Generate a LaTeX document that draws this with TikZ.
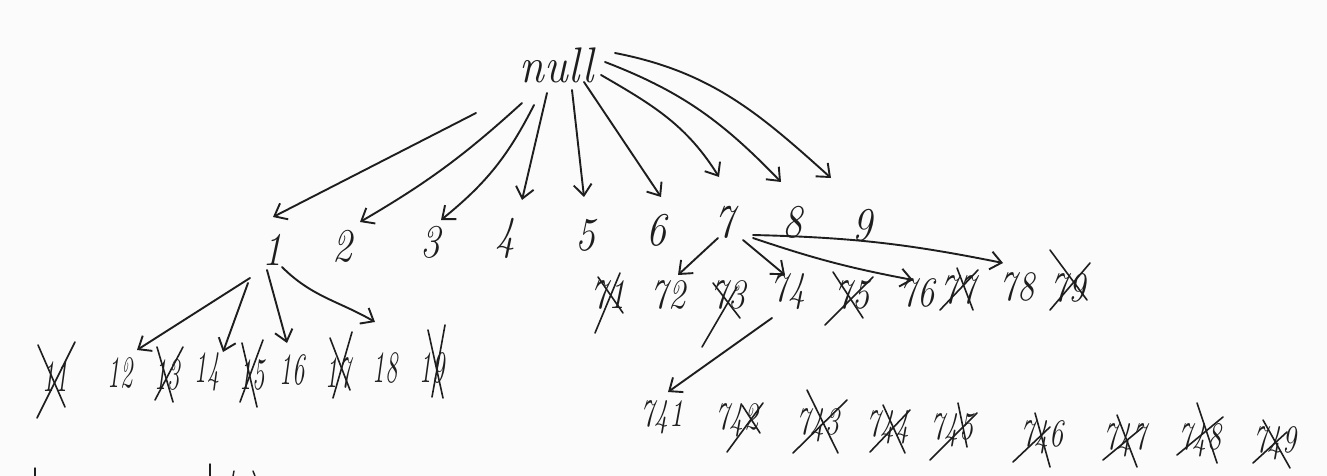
\documentclass[tikz,border=0pt]{standalone}
\usepackage{graphicx}
\usetikzlibrary{arrows.meta}
\definecolor{ink}{HTML}{1E1E1E}
\definecolor{paper}{HTML}{FBFBFB}
\newcommand\hw[2]{\scalebox{#1}[1]{#2}}
\newcommand\crossout[9]{%
  \draw[strike] ([shift={(#2,#3)}]#1.center) -- ([shift={(#4,#5)}]#1.center);
  \draw[strike] ([shift={(#6,#7)}]#1.center) -- ([shift={(#8,#9)}]#1.center);}
\begin{document}
\begin{tikzpicture}[x=1pt,y=1pt,
  pen/.style={draw=ink, line width=1.9pt, line cap=round, line join=round},
  arr/.style={pen, -{Straight Barb[length=11pt,width=18pt]}},
  strike/.style={pen, line width=1.6pt},
  lab/.style={inner sep=0pt, text=ink},
  rootlab/.style={lab, font=\fontsize{50}{50}\selectfont\itshape},
  lvlone/.style={lab, font=\fontsize{47}{47}\selectfont\itshape},
  lvltwoa/.style={lab, font=\fontsize{45}{45}\selectfont\itshape},
  lvltwob/.style={lab, font=\fontsize{42}{42}\selectfont\itshape},
  lvlthree/.style={lab, font=\fontsize{39}{39}\selectfont\itshape}]
\fill[paper] (0,0) rectangle (1327,-476);
\useasboundingbox (0,0) rectangle (1327,-476);

% root
\node[rootlab] (null) at (557,-65) {\hw{0.9}{null}};
% level 1
\node[lvlone] (n1) at (272,-250) {\hw{0.85}{1}};
\node[lvlone] (n2) at (342,-246) {\hw{0.85}{2}};
\node[lvlone] (n3) at (430,-242) {\hw{0.85}{3}};
\node[lvlone] (n4) at (505,-238) {\hw{0.85}{4}};
\node[lvlone] (n5) at (585,-235) {\hw{0.85}{5}};
\node[lvlone] (n6) at (656,-230) {\hw{0.85}{6}};
\node[lvlone] (n7) at (724,-222) {\hw{0.85}{7}};
\node[lvlone] (n8) at (792,-222) {\hw{0.85}{8}};
\node[lvlone] (n9) at (862,-225) {\hw{0.85}{9}};
% children of 1
\node[lvltwoa] (n11) at (55,-377) {\hw{0.55}{11}};
\node[lvltwoa] (n12) at (120,-373) {\hw{0.55}{12}};
\node[lvltwoa] (n13) at (167,-375) {\hw{0.55}{13}};
\node[lvltwoa] (n14) at (207,-372) {\hw{0.55}{14}};
\node[lvltwoa] (n15) at (252,-375) {\hw{0.55}{15}};
\node[lvltwoa] (n16) at (292,-370) {\hw{0.55}{16}};
\node[lvltwoa] (n17) at (338,-373) {\hw{0.55}{17}};
\node[lvltwoa] (n18) at (385,-368) {\hw{0.55}{18}};
\node[lvltwoa] (n19) at (432,-368) {\hw{0.55}{19}};
% children of 7
\node[lvltwob] (n71) at (608,-295) {\hw{0.82}{71}};
\node[lvltwob] (n72) at (668,-295) {\hw{0.82}{72}};
\node[lvltwob] (n73) at (728,-295) {\hw{0.82}{73}};
\node[lvltwob] (n74) at (788,-292) {\hw{0.82}{74}};
\node[lvltwob] (n75) at (852,-295) {\hw{0.82}{75}};
\node[lvltwob] (n76) at (917,-293) {\hw{0.82}{76}};
\node[lvltwob] (n77) at (958,-290) {\hw{0.82}{77}};
\node[lvltwob] (n78) at (1017,-287) {\hw{0.82}{78}};
\node[lvltwob] (n79) at (1068,-288) {\hw{0.82}{79}};
% children of 74
\node[lvlthree] (n741) at (662,-417) {\hw{0.72}{741}};
\node[lvlthree] (n742) at (737,-420) {\hw{0.72}{742}};
\node[lvlthree] (n743) at (818,-425) {\hw{0.72}{743}};
\node[lvlthree] (n744) at (888,-427) {\hw{0.72}{744}};
\node[lvlthree] (n745) at (952,-430) {\hw{0.72}{745}};
\node[lvlthree] (n746) at (1042,-437) {\hw{0.72}{746}};
\node[lvlthree] (n747) at (1125,-440) {\hw{0.72}{747}};
\node[lvlthree] (n748) at (1200,-440) {\hw{0.72}{748}};
\node[lvlthree] (n749) at (1275,-443) {\hw{0.72}{749}};

% arrows from null
\draw[arr] ([shift={(-81,-48)}]null.center) -- ([shift={(1,33)}]n1.center);
\draw[arr] ([shift={(-35,-38)}]null.center) to[bend left=6] ([shift={(18,24)}]n2.center);
\draw[arr] ([shift={(-23,-40)}]null.center) to[bend left=12] ([shift={(11,22)}]n3.center);
\draw[arr] ([shift={(-10,-28)}]null.center) -- ([shift={(17,38)}]n4.center);
\draw[arr] ([shift={(15,-25)}]null.center) -- ([shift={(-1,38)}]n5.center);
\draw[arr] ([shift={(27,-17)}]null.center) -- ([shift={(5,33)}]n6.center);
\draw[arr] ([shift={(44,-10)}]null.center) to[out=-30,in=122] ([shift={(-5,45)}]n7.center);
\draw[arr] ([shift={(48,3)}]null.center) to[out=-21,in=134] ([shift={(-11,40)}]n8.center);
\draw[arr] ([shift={(58,12)}]null.center) to[out=-11,in=138] ([shift={(-31,47)}]n9.center);

% arrows from 1
\draw[arr] ([shift={(-22,-28)}]n1.center) -- ([shift={(17,23)}]n12.center);
\draw[arr] ([shift={(-24,-33)}]n1.center) -- ([shift={(16,20)}]n14.center);
\draw[arr] ([shift={(-5,-20)}]n1.center) -- ([shift={(-5,27)}]n16.center);
\draw[arr] ([shift={(10,-17)}]n1.center) to[out=-45,in=150] ([shift={(-10,46)}]n18.center);

% arrows from 7
\draw[arr] ([shift={(-6,-16)}]n7.center) -- ([shift={(10,20)}]n72.center);
\draw[arr] ([shift={(19,-18)}]n7.center) -- ([shift={(-3,17)}]n74.center);
\draw[arr] ([shift={(29,-16)}]n7.center) to[bend right=4] ([shift={(-4,13)}]n76.center);
\draw[arr] ([shift={(29,-13)}]n7.center) to[bend left=5] ([shift={(-14,24)}]n78.center);

% arrow from 74
\draw[arr] ([shift={(-16,-26)}]n74.center) -- ([shift={(6,25)}]n741.center);

% cross-outs
\crossout{n11}{-18}{-41}{20}{35}{-17}{32}{10}{-30}
\crossout{n13}{-12}{-25}{16}{28}{-10}{28}{6}{-27}
\crossout{n15}{-12}{-27}{11}{35}{-10}{32}{5}{-32}
\crossout{n17}{-5}{-25}{14}{41}{-8}{35}{12}{-17}
\crossout{n19}{0}{-29}{13}{43}{-4}{38}{11}{-30}
\crossout{n71}{-13}{-38}{12}{22}{-10}{18}{15}{-18}
\crossout{n73}{-26}{-52}{9}{8}{-15}{12}{12}{-23}
\crossout{n75}{-27}{-30}{21}{18}{-19}{23}{11}{-23}
\crossout{n77}{-18}{-20}{20}{20}{-1}{22}{15}{-20}
\crossout{n79}{-18}{-22}{22}{25}{-18}{38}{19}{-12}
\crossout{n742}{-10}{-32}{26}{17}{5}{15}{23}{-13}
\crossout{n743}{-25}{-28}{29}{25}{-11}{35}{20}{-28}
\crossout{n744}{-18}{-25}{22}{17}{-5}{22}{17}{-26}
\crossout{n745}{-22}{-30}{25}{17}{6}{27}{15}{-17}
\crossout{n746}{-29}{-25}{8}{10}{-7}{24}{8}{-30}
\crossout{n747}{-22}{-20}{18}{13}{-8}{25}{12}{-27}
\crossout{n748}{-23}{-15}{23}{23}{-3}{37}{17}{-23}
\crossout{n749}{-22}{-20}{12}{11}{-12}{23}{15}{-25}

% cut-off strokes at the bottom edge
\draw[pen, line width=1.4pt] (35,-468) -- (35,-476);
\draw[pen, line width=1.4pt] (210,-464) -- (210,-476);
\draw[pen, line width=1.4pt] (234,-471) -- (233,-476);
\draw[pen, line width=1.4pt] (253,-471) -- (255,-476);
\end{tikzpicture}
\end{document}
